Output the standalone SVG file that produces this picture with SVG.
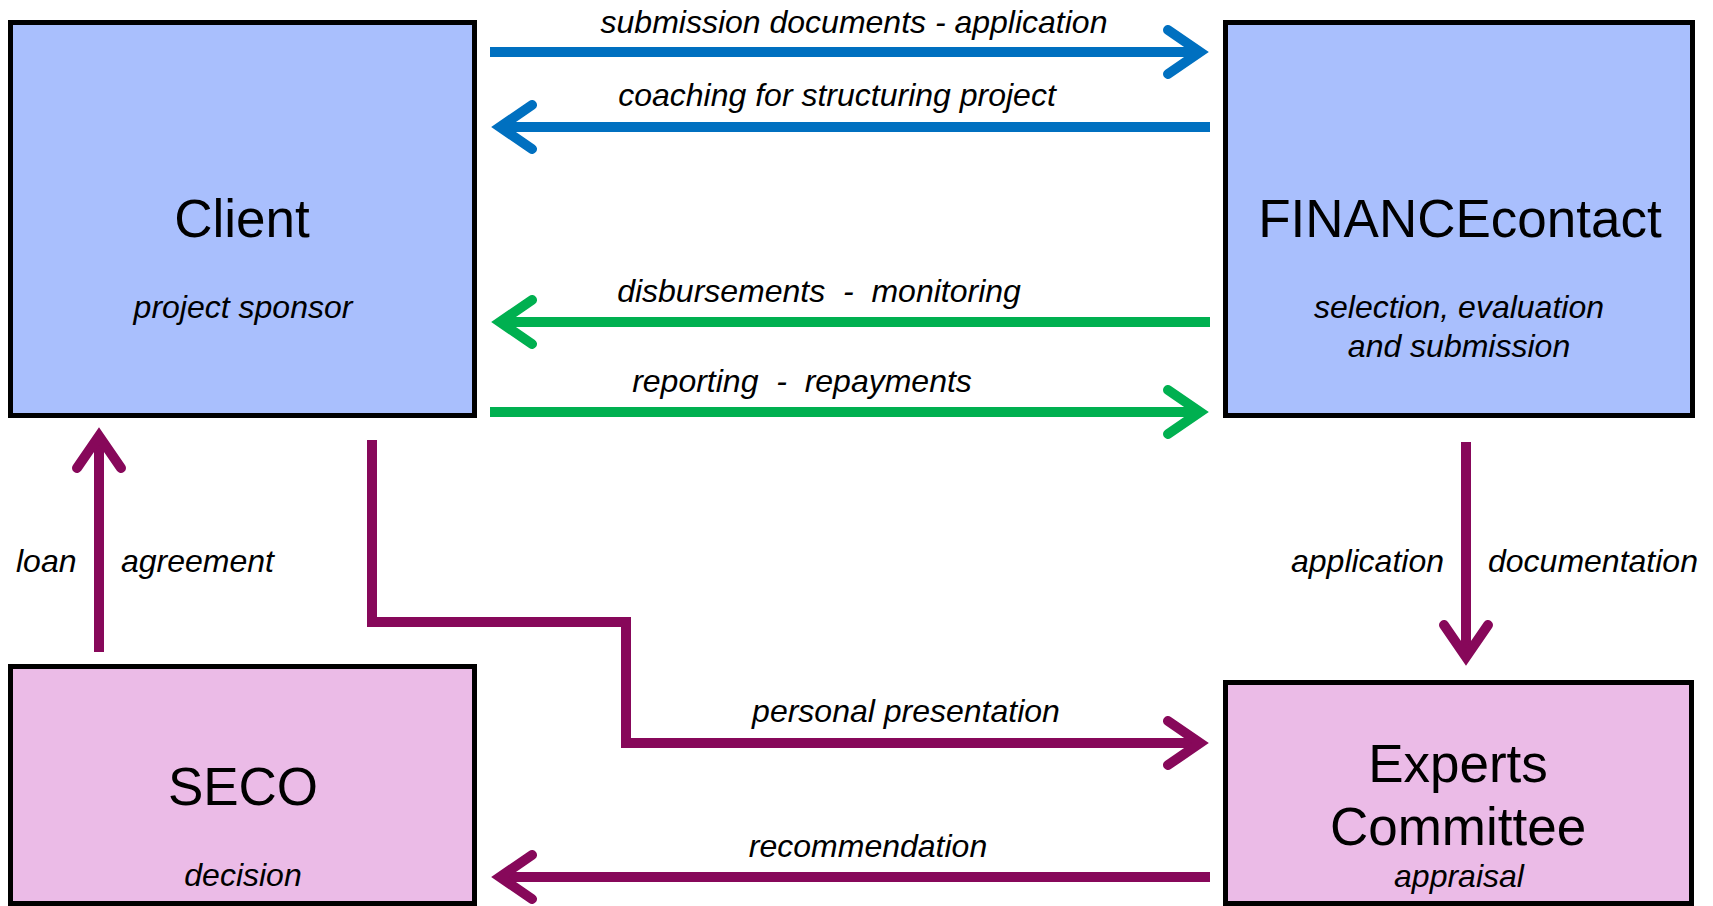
<svg xmlns="http://www.w3.org/2000/svg" width="1713" height="906" viewBox="0 0 1713 906">
<style>
.box{stroke:#000;stroke-width:5;stroke-linejoin:miter}
.blue{fill:#A9BFFD}
.pink{fill:#EBBBE7}
.title{font-family:"Liberation Sans",Arial,sans-serif;font-size:53px;fill:#000;text-anchor:middle}
.sub{font-family:"Liberation Sans",Arial,sans-serif;font-size:32px;font-style:italic;fill:#000;text-anchor:middle}
.lbl{font-family:"Liberation Sans",Arial,sans-serif;font-size:32px;font-style:italic;fill:#000}
.mid{text-anchor:middle}
.ln{fill:none;stroke-width:10;stroke-linejoin:miter}
.cb{stroke:#0070C0}
.cg{stroke:#00B050}
.cp{stroke:#87085A}
</style>
<defs>
<marker id="ahb" markerUnits="userSpaceOnUse" viewBox="-50 -35 70 70" markerWidth="70" markerHeight="70" refX="0" refY="0" orient="auto" overflow="visible">
<path d="M-32,-22 L0,0 L-32,22" fill="none" stroke="#0070C0" stroke-width="10" stroke-linecap="round" stroke-linejoin="miter"/>
</marker>
<marker id="ahg" markerUnits="userSpaceOnUse" viewBox="-50 -35 70 70" markerWidth="70" markerHeight="70" refX="0" refY="0" orient="auto" overflow="visible">
<path d="M-32,-22 L0,0 L-32,22" fill="none" stroke="#00B050" stroke-width="10" stroke-linecap="round" stroke-linejoin="miter"/>
</marker>
<marker id="ahp" markerUnits="userSpaceOnUse" viewBox="-50 -35 70 70" markerWidth="70" markerHeight="70" refX="0" refY="0" orient="auto" overflow="visible">
<path d="M-32,-22 L0,0 L-32,22" fill="none" stroke="#87085A" stroke-width="10" stroke-linecap="round" stroke-linejoin="miter"/>
</marker>
</defs>
<rect width="1713" height="906" fill="#fff"/>

<g id="client">
<rect class="box blue" x="10.5" y="22.5" width="464" height="393"/>
<text class="title" x="242" y="237">Client</text>
<text class="sub" x="243" y="318">project sponsor</text>
</g>

<g id="financecontact">
<rect class="box blue" x="1225.5" y="22.5" width="467" height="393"/>
<text class="title" x="1460" y="237">FINANCEcontact</text>
<text class="sub" x="1459" y="318">selection, evaluation</text>
<text class="sub" x="1459" y="357">and submission</text>
</g>

<g id="seco">
<rect class="box pink" x="10.5" y="666.5" width="464" height="237"/>
<text class="title" x="243" y="805">SECO</text>
<text class="sub" x="243" y="886">decision</text>
</g>

<g id="experts">
<rect class="box pink" x="1225.5" y="682.5" width="466" height="221"/>
<text class="title" x="1458" y="782">Experts</text>
<text class="title" x="1458" y="845">Committee</text>
<text class="sub" x="1459" y="887">appraisal</text>
</g>

<g id="connectors">
<path class="ln cb" d="M490,52 L1200,52" marker-end="url(#ahb)"/>
<path class="ln cb" d="M1210,127 L500,127" marker-end="url(#ahb)"/>
<path class="ln cg" d="M1210,322 L500,322" marker-end="url(#ahg)"/>
<path class="ln cg" d="M490,412 L1200,412" marker-end="url(#ahg)"/>
<path class="ln cp" d="M99,652 L99,436" marker-end="url(#ahp)"/>
<path class="ln cp" d="M1466,442 L1466,657" marker-end="url(#ahp)"/>
<path class="ln cp" d="M372,440 L372,622 L626,622 L626,743 L1200,743" marker-end="url(#ahp)"/>
<path class="ln cp" d="M1210,877 L500,877" marker-end="url(#ahp)"/>

<text class="lbl mid" x="854" y="33">submission documents - application</text>
<text class="lbl mid" x="837" y="106">coaching for structuring project</text>
<text class="lbl mid" x="819" y="302" xml:space="preserve">disbursements  -  monitoring</text>
<text class="lbl mid" x="802" y="392" xml:space="preserve">reporting  -  repayments</text>
<text class="lbl" x="16" y="572">loan</text>
<text class="lbl" x="121" y="572">agreement</text>
<text class="lbl" x="1291" y="572">application</text>
<text class="lbl" x="1488" y="572">documentation</text>
<text class="lbl mid" x="906" y="722">personal presentation</text>
<text class="lbl mid" x="868" y="857">recommendation</text>
</g>
</svg>
